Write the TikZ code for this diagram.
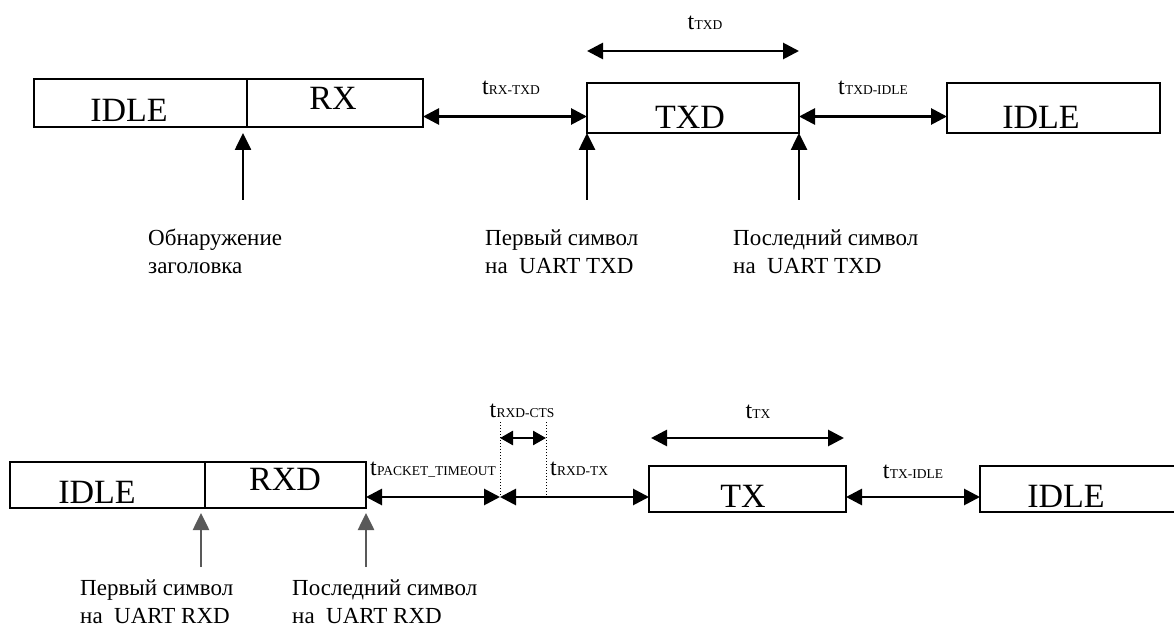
\documentclass[tikz,border=0pt]{standalone}
\usepackage{fontspec}
\setmainfont{Liberation Serif}
\usetikzlibrary{arrows.meta}
\newcommand\tsub[1]{t\kern0.3pt{\fontsize{13.5}{13.5}\selectfont #1}}
\begin{document}
\begin{tikzpicture}[x=1pt,y=-1pt,
  box/.style={draw, line width=1.5pt, inner sep=0pt, outer sep=0pt},
  boxlab/.style={inner sep=0pt, anchor=base, font=\fontsize{34}{34}\selectfont},
  tlab/.style={inner sep=0pt, anchor=base, font=\fontsize{24}{24}\selectfont},
  caption/.style={inner sep=0pt, anchor=base west, font=\fontsize{23}{28}\selectfont},
  dim/.style={line width=2.8pt, {Triangle[length=16pt,width=16pt]}-{Triangle[length=16pt,width=16pt]}},
  smalldim/.style={line width=2.6pt, {Triangle[length=13pt,width=14pt]}-{Triangle[length=13pt,width=14pt]}},
  uparrow/.style={line width=2.6pt, -{Triangle[length=17pt,width=16pt]}},
  greyup/.style={uparrow, draw=black!65, fill=black!65},
  dotline/.style={line width=1pt, dotted}
]
\useasboundingbox (0,0) rectangle (1174,636);
\clip (0,0) rectangle (1174,636);

% ---------- top row ----------
\node[box, minimum width=213pt, minimum height=48pt] (idleA) at (140.5,103) {};
\node[box, minimum width=176pt, minimum height=48pt] (rx) at (335,103) {};
\node[box, minimum width=212pt, minimum height=50pt] (txd) at (693,108) {};
\node[box, minimum width=213pt, minimum height=50pt] (idleB) at (1053.5,108) {};

\node[boxlab] (lidleA) at (129,122) {IDLE};
\node[boxlab] (lrx) at (333,110) {RX};
\node[boxlab] (ltxd) at (690,129) {TXD};
\node[boxlab] (lidleB) at (1041,129) {IDLE};

\coordinate (rowA) at (0,116.5);
\coordinate (rowB) at (0,51);
\coordinate (tailA) at (0,200);

\draw[dim] (rx.east |- rowA) -- (txd.west |- rowA);
\draw[dim] (txd.east |- rowA) -- (idleB.west |- rowA);
\draw[dim] (txd.west |- rowB) -- (txd.east |- rowB);

\node[tlab] (trxtxd) at (511,95) {\tsub{RX-TXD}};
\node[tlab] (ttxd) at (705,30) {\tsub{TXD}};
\node[tlab] (ttxdidle) at (873,95) {\tsub{TXD-IDLE}};

\coordinate (upA) at ([xshift=-4pt]idleA.south east |- tailA);
\draw[uparrow] (upA) -- ([xshift=-4pt,yshift=-6pt]idleA.south east);
\draw[uparrow] (txd.south west |- tailA) -- (txd.south west);
\draw[uparrow] (txd.south east |- tailA) -- (txd.south east);

\node[caption] (c1a) at (148,245) {Обнаружение};
\node[caption] (c1b) at (148,273) {заголовка};
\node[caption] (c2a) at (485,245) {Первый символ};
\node[caption] (c2b) at (485,273) {на\ \ UART TXD};
\node[caption] (c3a) at (733,245) {Последний символ};
\node[caption] (c3b) at (733,273) {на\ \ UART TXD};

% ---------- bottom row ----------
\node[box, minimum width=195pt, minimum height=46pt] (idleC) at (107.5,485) {};
\node[box, minimum width=161pt, minimum height=46pt] (rxd) at (285.5,485) {};
\node[box, minimum width=197pt, minimum height=46pt] (tx) at (747.5,489) {};
\node[box, minimum width=220pt, minimum height=46pt] (idleD) at (1090,489) {};

\node[boxlab] (lidleC) at (97,503) {IDLE};
\node[boxlab] (lrxd) at (285,490) {RXD};
\node[boxlab] (ltx) at (743,507) {TX};
\node[boxlab] (lidleD) at (1066,507) {IDLE};

\coordinate (rowC) at (0,497);
\coordinate (rowD) at (0,438);
\coordinate (d1) at (500,422);
\coordinate (d2) at (546,422);
\coordinate (tailB) at (0,567);

\draw[dotline] (d1) -- (d1 |- rowC);
\draw[dotline] (d2) -- (d2 |- rowC);

\draw[dim] (rxd.east |- rowC) -- (d1 |- rowC);
\draw[dim] (d1 |- rowC) -- (tx.west |- rowC);
\draw[dim] (tx.east |- rowC) -- (idleD.west |- rowC);
\draw[smalldim] (d1 |- rowD) -- (d2 |- rowD);
\draw[dim] ([xshift=2pt]tx.west |- rowD) -- ([xshift=-2pt]tx.east |- rowD);

\node[tlab, anchor=base west] (tpacket) at (370,475) {\tsub{PACKET\_TIMEOUT}};
\node[tlab] (trxdcts) at (522,417) {\tsub{RXD-CTS}};
\node[tlab, anchor=base west] (trxdtx) at (550,475) {\tsub{RXD-TX}};
\node[tlab] (ttx) at (758,418) {\tsub{TX}};
\node[tlab] (ttxidle) at (913,478) {\tsub{TX-IDLE}};

\draw[greyup] ([xshift=-4pt]idleC.south east |- tailB) -- ([xshift=-4pt,yshift=-5pt]idleC.south east);
\draw[greyup] (rxd.south east |- tailB) -- ([yshift=-5pt]rxd.south east);

\node[caption] (c4a) at (80,595) {Первый символ};
\node[caption] (c4b) at (80,623) {на\ \ UART RXD};
\node[caption] (c5a) at (292,595) {Последний символ};
\node[caption] (c5b) at (292,623) {на\ \ UART RXD};
\end{tikzpicture}
\end{document}
